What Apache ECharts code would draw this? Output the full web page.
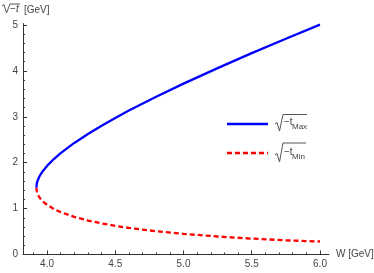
<!DOCTYPE html>
<html>
<head>
<meta charset="utf-8">
<script src="https://cdn.jsdelivr.net/npm/echarts@6/dist/echarts.min.js"></script>
<style>
html,body{margin:0;padding:0;background:#fff;}
#c{width:374px;height:273px;}
</style>
</head>
<body>
<div id="c"></div>
<script>
// W [GeV]
var wVals = [3.922, 3.9225, 3.925, 3.93, 3.94, 3.95, 3.97, 4.0, 4.05, 4.1, 4.2, 4.3, 4.4, 4.5, 4.6, 4.8, 5.0, 5.25, 5.5, 5.75, 6.0];
// sqrt(-t_Max) [GeV]
var tMax = [1.459, 1.494, 1.544, 1.600, 1.673, 1.730, 1.820, 1.930, 2.080, 2.208, 2.430, 2.626, 2.806, 2.975, 3.135, 3.437, 3.722, 4.061, 4.386, 4.700, 5.007];
// sqrt(-t_Min) [GeV]
var tMin = [1.459, 1.425, 1.378, 1.329, 1.267, 1.222, 1.156, 1.082, 0.992, 0.923, 0.818, 0.740, 0.677, 0.624, 0.579, 0.506, 0.449, 0.392, 0.346, 0.309, 0.283];
var xMajor = [4.0, 4.5, 5.0, 5.5, 6.0];
var xMinor = [3.9, 4.1, 4.2, 4.3, 4.4, 4.6, 4.7, 4.8, 4.9, 5.1, 5.2, 5.3, 5.4, 5.6, 5.7, 5.8, 5.9];
var yMajor = [0, 1, 2, 3, 4, 5];
var yMinor = [0.2, 0.4, 0.6, 0.8, 1.2, 1.4, 1.6, 1.8, 2.2, 2.4, 2.6, 2.8, 3.2, 3.4, 3.6, 3.8, 4.2, 4.4, 4.6, 4.8];

function zip(a, b) { return a.map(function (v, i) { return [v, b[i]]; }); }

var chart = echarts.init(document.getElementById('c'), null, {renderer: 'canvas'});
var axisCol = '#333';
var txtCol = '#444';
var font = 'Liberation Sans, Arial, sans-serif';
var xMin = 3.824, xMax = 6.066, yMin = 0, yMax = 5.03;

function xAx(custom, len, labels, line) {
  return {
    type: 'value', min: xMin, max: xMax, position: 'bottom',
    axisLine: {show: line, onZero: false, lineStyle: {color: axisCol, width: 1}},
    axisTick: {show: true, inside: true, length: len, customValues: custom, lineStyle: {color: axisCol}},
    axisLabel: {show: labels, customValues: custom, margin: 5, color: txtCol, fontFamily: font, fontSize: 10,
      formatter: function (v) { return v.toFixed(1); }},
    splitLine: {show: false}
  };
}
function yAx(custom, len, labels, line) {
  return {
    type: 'value', min: yMin, max: yMax, position: 'left',
    axisLine: {show: line, onZero: false, lineStyle: {color: axisCol, width: 1}},
    axisTick: {show: true, inside: true, length: len, customValues: custom, lineStyle: {color: axisCol}},
    axisLabel: {show: labels, customValues: custom, margin: 5, color: txtCol, fontFamily: font, fontSize: 10,
      formatter: function (v) { return String(Math.round(v)); }},
    splitLine: {show: false}
  };
}

var sx = 275, s1 = 124, s2 = 153;
function sqrtMark(x, yb, top, right) {
  return {type: 'polyline', shape: {points: [[x, yb - 6], [x + 2, yb - 7.5], [x + 4.5, yb + 1], [x + 8, top], [right, top]]},
    style: {stroke: '#555', lineWidth: 1, fill: null}};
}

chart.setOption({
  animation: false,
  grid: {left: 23, right: 45, top: 23.6, bottom: 18.5, containLabel: false},
  xAxis: [xAx(xMajor, 4, true, true), xAx(xMinor, 2, false, false)],
  yAxis: [yAx(yMajor, 4, true, true), yAx(yMinor, 2, false, false)],
  series: [
    {name: 'max', type: 'line', data: zip(wVals, tMax), showSymbol: false, symbol: 'none',
      lineStyle: {color: '#0000ff', width: 2.3}, z: 3},
    {name: 'min', type: 'line', data: zip(wVals, tMin), showSymbol: false, symbol: 'none',
      lineStyle: {color: '#ff0000', width: 2.3, type: [5, 3]}, z: 2}
  ],
  graphic: [
    // y axis name
    sqrtMark(2, 12, 4, 20),
    {type: 'text', left: 10, top: 4, style: {text: '−', fill: txtCol, font: '10px ' + font}},
    {type: 'text', left: 16, top: 4, style: {text: 't', fill: txtCol, font: 'italic 10px ' + font}},
    {type: 'text', left: 24, top: 5, style: {text: '[GeV]', fill: txtCol, font: '10px ' + font}},
    // x axis name
    {type: 'text', left: 336, top: 249, style: {text: 'W [GeV]', fill: txtCol, font: '10px ' + font}},
    // legend
    {type: 'line', shape: {x1: 227, y1: s1, x2: 268, y2: s1}, style: {stroke: '#0000ff', lineWidth: 2.3}},
    {type: 'line', shape: {x1: 227, y1: s2, x2: 268, y2: s2}, style: {stroke: '#ff0000', lineWidth: 2.3, lineDash: [5, 3]}},
    sqrtMark(sx, s1 + 6, s1 - 9.5, 307),
    {type: 'text', left: sx + 9, top: s1 - 7, style: {text: '−t', fill: txtCol, font: '10px ' + font}},
    {type: 'text', left: sx + 17, top: s1 - 1, style: {text: 'Max', fill: txtCol, font: '8px ' + font}},
    sqrtMark(sx, s2 + 8, s2 - 10, 306),
    {type: 'text', left: sx + 9, top: s2 - 6, style: {text: '−t', fill: txtCol, font: '10px ' + font}},
    {type: 'text', left: sx + 17, top: s2, style: {text: 'Min', fill: txtCol, font: '8px ' + font}}
  ]
});
</script>
</body>
</html>
